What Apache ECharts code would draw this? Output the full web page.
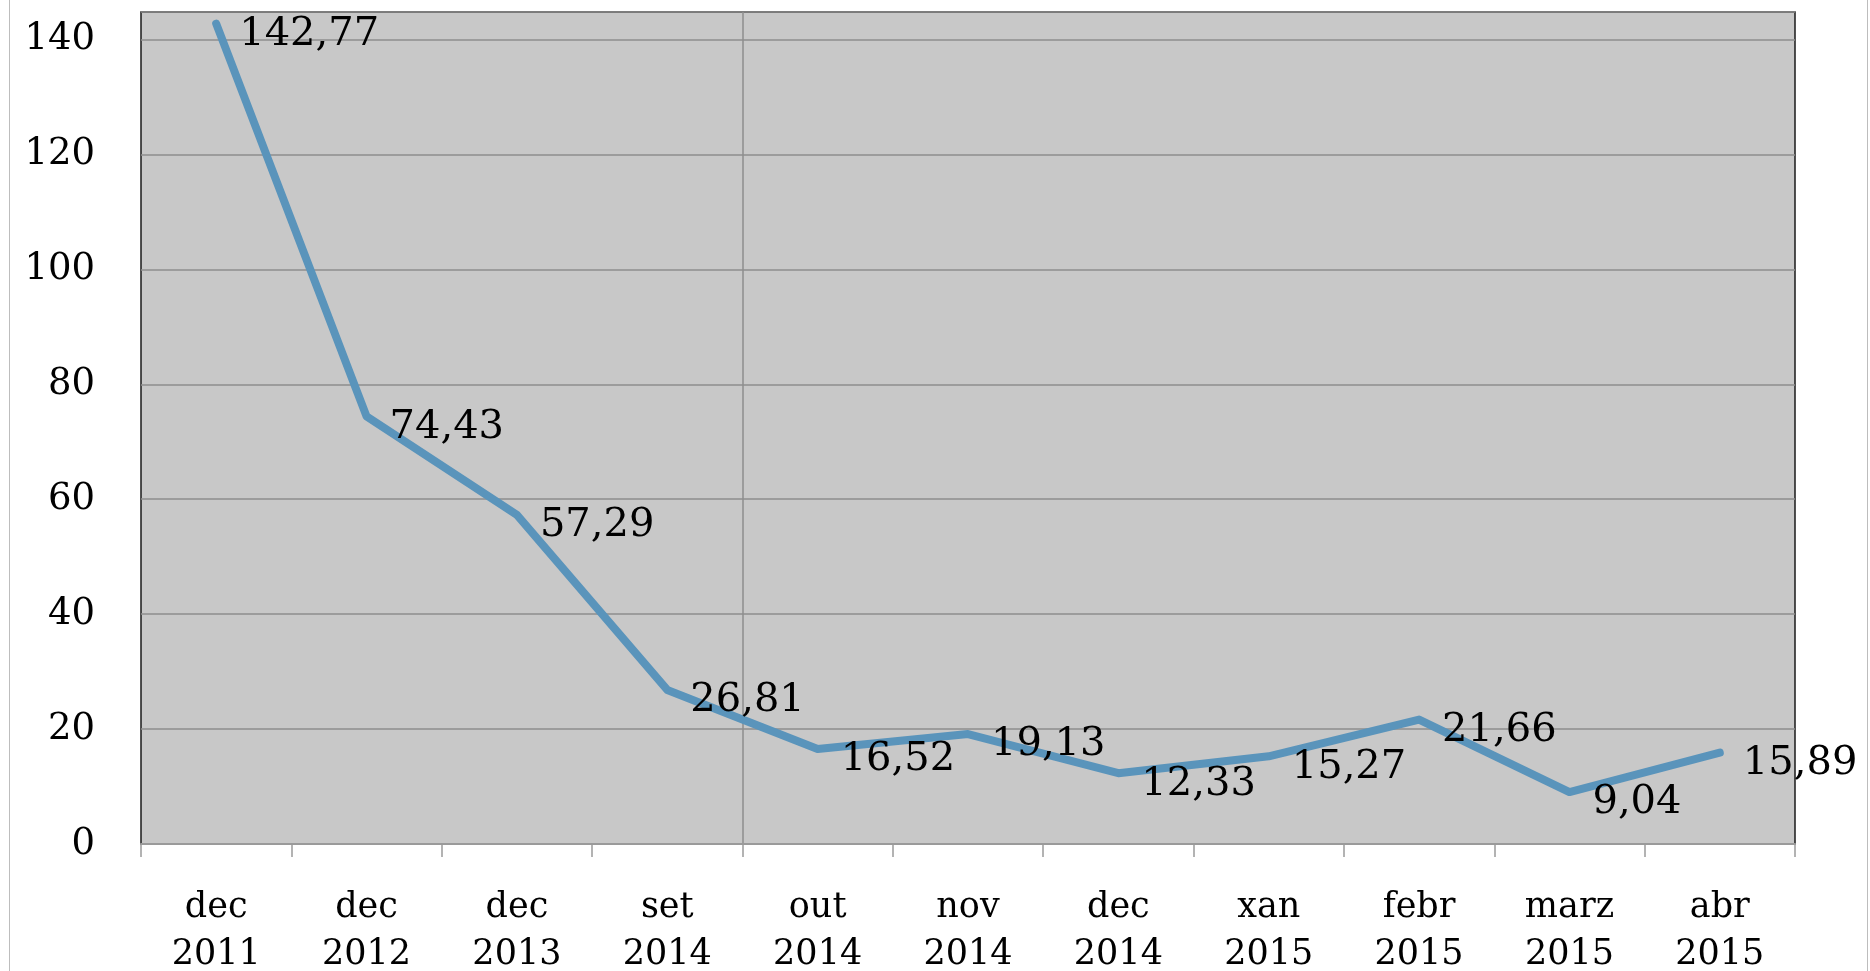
<!DOCTYPE html>
<html>
<head>
<meta charset="utf-8">
<script src="https://cdn.jsdelivr.net/npm/echarts@6/dist/echarts.min.js"></script>
<style>
html,body{margin:0;padding:0;background:#fff;}
#wrap{position:relative;width:1870px;height:971px;}
#c{position:absolute;left:0;top:0;width:1870px;height:971px;}
.fr{position:absolute;top:0;height:971px;width:0;border-left:1.5px solid #bdbdbd;}
</style>
</head>
<body>
<div id="wrap">
<div id="c"></div>
<div class="fr" style="left:9px"></div>
<div class="fr" style="left:1867px"></div>
</div>
<script>
const categories = ['dec\n2011','dec\n2012','dec\n2013','set\n2014','out\n2014','nov\n2014','dec\n2014','xan\n2015','febr\n2015','marz\n2015','abr\n2015'];
const values = [142.77, 74.43, 57.29, 26.81, 16.52, 19.13, 12.33, 15.27, 21.66, 9.04, 15.89];
const yTicks = [0, 20, 40, 60, 80, 100, 120, 140];

const FONT = '"DejaVu Serif", "Liberation Serif", serif';
// one vertical gridline at the boundary before the 5th category
const vLineColors = categories.concat(['']).map(function (_, i) { return i === 4 ? '#8e8e8e' : 'rgba(0,0,0,0)'; });

const chart = echarts.init(document.getElementById('c'), null, {renderer: 'canvas'});
chart.setOption({
  animation: false,
  backgroundColor: 'transparent',
  grid: {
    left: 141, right: 75, top: 12, bottom: 127,
    containLabel: false, outerBoundsMode: 'none',
    show: true, backgroundColor: '#c8c8c8', borderColor: '#1a1a1a', borderWidth: 1.5
  },
  xAxis: [{
    type: 'category',
    data: categories,
    boundaryGap: true,
    axisLine: {show: true, lineStyle: {color: '#9a9a9a', width: 2}},
    axisTick: {show: true, length: 13, lineStyle: {color: '#9a9a9a', width: 1.5}},
    splitLine: {show: false},
    axisLabel: {
      fontFamily: FONT, fontSize: 35, color: '#000', lineHeight: 47, margin: 40, interval: 0
    }
  }, {
    type: 'value',
    min: 0, max: categories.length, interval: 1,
    position: 'bottom',
    axisLine: {show: false}, axisTick: {show: false}, axisLabel: {show: false},
    splitLine: {show: true, lineStyle: {color: vLineColors, width: 1.5}}
  }],
  yAxis: {
    type: 'value',
    min: 0, max: 144.8, interval: 20,
    axisLine: {show: false},
    axisTick: {show: false},
    splitLine: {show: true, lineStyle: {color: '#8e8e8e', width: 1.5}},
    axisLabel: {
      fontFamily: FONT, fontSize: 37, color: '#000', margin: 46,
      showMaxLabel: false,
      formatter: function (v) { return yTicks.indexOf(v) >= 0 ? String(v) : ''; }
    }
  },
  series: [{
    type: 'line',
    xAxisIndex: 0,
    data: values,
    symbol: 'circle',
    symbolSize: 2,
    showSymbol: true,
    itemStyle: {color: '#5a94bb'},
    lineStyle: {color: '#5a94bb', width: 8, cap: 'round', join: 'round'},
    label: {
      show: true, position: 'right', distance: 22,
      fontFamily: FONT, fontSize: 40, color: '#000',
      formatter: function (p) { return String(p.value).replace('.', ','); }
    },
    labelLayout: {dy: 11, hideOverlap: false}
  }]
});
</script>
</body>
</html>
